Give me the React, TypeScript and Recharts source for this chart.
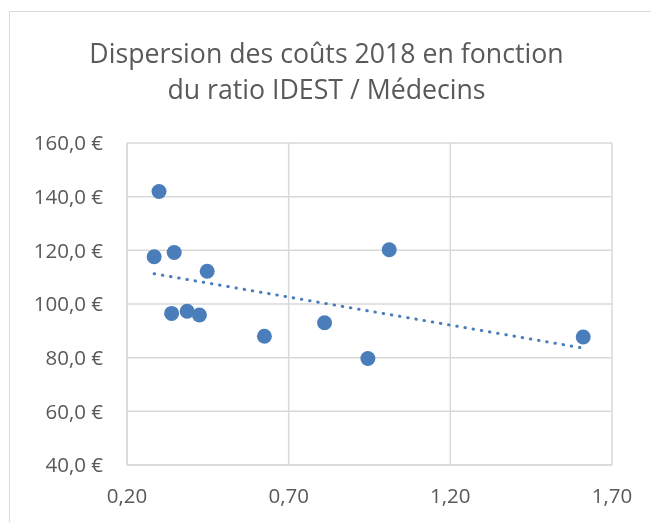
import React from "react";
import { ScatterChart, Scatter, XAxis, YAxis, CartesianGrid } from "recharts";

const ratios = [0.284, 0.299, 0.346, 0.338, 0.386, 0.424, 0.448, 0.625, 0.811, 0.945, 1.011, 1.611];
const costs = [117.6, 141.9, 119.2, 96.5, 97.3, 95.9, 112.2, 88.0, 93.0, 79.7, 120.2, 87.7];
const xTicks = [0.2, 0.7, 1.2, 1.7];
const yTicks = [40, 60, 80, 100, 120, 140, 160];
const titleLines = ["Dispersion des coûts 2018 en fonction", "du ratio IDEST / Médecins"];

const points = ratios.map((x, i) => ({ x, y: costs[i] }));

// Linear trendline (least squares), drawn from min x to max x as Excel does
const n = ratios.length;
const mx = ratios.reduce((a, b) => a + b, 0) / n;
const my = costs.reduce((a, b) => a + b, 0) / n;
const sxy = ratios.reduce((a, x, i) => a + (x - mx) * (costs[i] - my), 0);
const sxx = ratios.reduce((a, x) => a + (x - mx) * (x - mx), 0);
const slope = sxy / sxx;
const intercept = my - slope * mx;
const xMin = Math.min(...ratios);
const xMax = Math.max(...ratios);
const trend = [
  { x: xMin, y: intercept + slope * xMin },
  { x: xMax, y: intercept + slope * xMax },
];

const GRID = "#d9d9d9";
const TEXT = "#595959";
const BLUE = "#4a7ebb";
const FONT = "'Open Sans', sans-serif";

const fmtY = (v: number) => v.toFixed(1).replace(".", ",") + "\u00a0€";
const fmtX = (v: number) => v.toFixed(2).replace(".", ",");

const Dot = (props: any) => {
  const { cx, cy } = props;
  if (cx == null || cy == null) return <g />;
  return <circle cx={cx} cy={cy} r={7.5} fill={BLUE} />;
};

const Empty = () => <g />;

export default function App() {
  return (
    <div style={{ position: "relative", width: 643, height: 514, fontFamily: FONT }}>
      <div
        style={{
          position: "fixed",
          left: 9,
          top: 11,
          right: -10,
          bottom: -10,
          borderLeft: `1px solid ${GRID}`,
          borderTop: `1px solid ${GRID}`,
          pointerEvents: "none",
        }}
      />
      <div
        style={{
          position: "absolute",
          left: 318.5,
          top: 27,
          transform: "translateX(-50%)",
          whiteSpace: "nowrap",
          textAlign: "center",
          fontSize: 26.7,
          lineHeight: "36px",
          color: TEXT,
        }}
      >
        {titleLines.map((t) => (
          <div key={t}>{t}</div>
        ))}
      </div>
      <ScatterChart
        width={643}
        height={514}
        margin={{ top: 135, right: 39, left: 0, bottom: 0 }}
        style={{ position: "absolute", left: 0, top: 0 }}
      >
        <CartesianGrid stroke={GRID} strokeWidth={1.5} />
        <XAxis
          type="number"
          dataKey="x"
          domain={[0.2, 1.7]}
          ticks={xTicks}
          tickFormatter={fmtX}
          height={57}
          tickSize={0}
          tickMargin={23}
          axisLine={{ stroke: GRID, strokeWidth: 1.5 }}
          tickLine={false}
          tick={{ fill: TEXT, fontSize: 20.5, fontFamily: FONT }}
          allowDataOverflow
        />
        <YAxis
          type="number"
          dataKey="y"
          domain={[40, 160]}
          ticks={yTicks}
          tickFormatter={fmtY}
          width={119}
          tickSize={0}
          tickMargin={24}
          axisLine={{ stroke: GRID, strokeWidth: 1.5 }}
          tickLine={false}
          tick={{ fill: TEXT, fontSize: 20.5, fontFamily: FONT }}
          allowDataOverflow
        />
        <Scatter
          data={trend}
          shape={Empty}
          line={{
            stroke: BLUE,
            strokeWidth: 3,
            strokeDasharray: "0.5 7.8",
            strokeLinecap: "round",
          }}
          isAnimationActive={false}
        />
        <Scatter data={points} shape={Dot} isAnimationActive={false} />
      </ScatterChart>
    </div>
  );
}
